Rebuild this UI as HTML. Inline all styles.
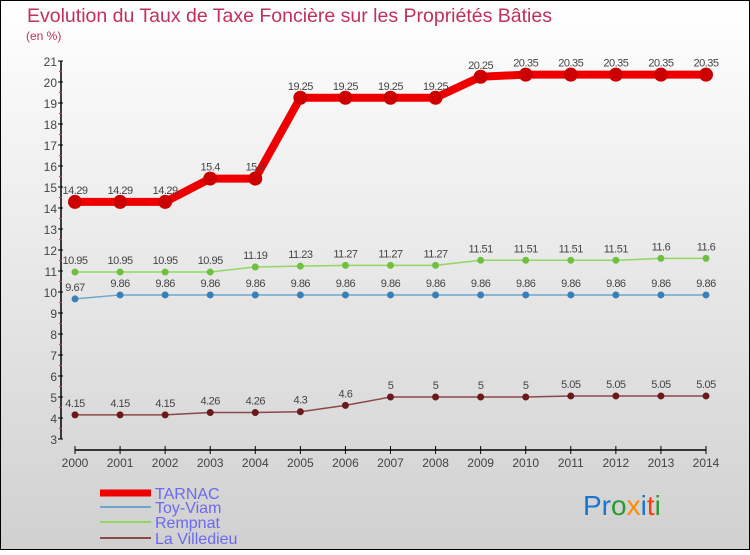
<!DOCTYPE html>
<html><head><meta charset="utf-8"><style>
html,body{margin:0;padding:0}
body{width:750px;height:550px;overflow:hidden;font-family:"Liberation Sans",sans-serif}
</style></head><body>
<svg id="chart" width="750" height="550" xmlns="http://www.w3.org/2000/svg">
<defs><linearGradient id="bg" x1="0" y1="0" x2="0" y2="1"><stop offset="0" stop-color="#ffffff"/><stop offset="1" stop-color="#d0d0d0"/></linearGradient></defs>
<rect x="0.5" y="0.5" width="749" height="549" fill="url(#bg)" stroke="#000" stroke-width="1"/>
<text x="27" y="22" font-size="19.5" fill="#c0305a">Evolution du Taux de Taxe Foncière sur les Propriétés Bâties</text>
<text x="26" y="40" font-size="12" fill="#c0305a">(en %)</text>
<g id="axes"></g><g id="series"></g>
<g id="legend"></g>
<text x="583" y="515" font-size="28" font-family="Liberation Sans,sans-serif"><tspan fill="#1a74d0">Pr</tspan><tspan fill="#2a9a30">o</tspan><tspan fill="#ff8a00">x</tspan><tspan fill="#1a74d0">i</tspan><tspan fill="#ff3a10">t</tspan><tspan fill="#2a9a30">i</tspan></text>
</svg>
<script>
const years=[2000,2001,2002,2003,2004,2005,2006,2007,2008,2009,2010,2011,2012,2013,2014];
const tarnac=[14.29,14.29,14.29,15.4,15.4,19.25,19.25,19.25,19.25,20.25,20.35,20.35,20.35,20.35,20.35];
const toyViam=[9.67,9.86,9.86,9.86,9.86,9.86,9.86,9.86,9.86,9.86,9.86,9.86,9.86,9.86,9.86];
const rempnat=[10.95,10.95,10.95,10.95,11.19,11.23,11.27,11.27,11.27,11.51,11.51,11.51,11.51,11.6,11.6];
const villedieu=[4.15,4.15,4.15,4.26,4.26,4.3,4.6,5,5,5,5,5.05,5.05,5.05,5.05];
const yTicks=[3,4,5,6,7,8,9,10,11,12,13,14,15,16,17,18,19,20,21];
const seriesNames=["TARNAC","Toy-Viam","Rempnat","La Villedieu"];
const NS="http://www.w3.org/2000/svg";
const X=i=>75+i*(706-75)/(years.length-1);
const Y=v=>439-(v-3)*21;
function mk(p,t,a){const e=document.createElementNS(NS,t);for(const k in a)e.setAttribute(k,a[k]);p.appendChild(e);return e;}
const ax=document.getElementById('axes');
let l=mk(ax,'line',{x1:61,y1:Y(21),x2:61,y2:Y(3),stroke:'#000','stroke-width':1.5});


yTicks.forEach(t=>{
  mk(ax,'line',{x1:58,y1:Y(t),x2:63,y2:Y(t),stroke:'#000'});
  if(t<21)mk(ax,'line',{x1:59,y1:Y(t+0.5),x2:62,y2:Y(t+0.5),stroke:'#e03030'});
  const tx=mk(ax,'text',{x:57,y:Y(t)+5,'text-anchor':'end','font-size':12,fill:'#444'});
  tx.textContent=t;
  
  
});
l=mk(ax,'line',{x1:X(0),y1:450,x2:X(years.length-1),y2:450,stroke:'#000','stroke-width':1.5});


years.forEach((y,i)=>{
  mk(ax,'line',{x1:X(i),y1:446,x2:X(i),y2:454,stroke:'#000'});
  const tx=mk(ax,'text',{x:X(i),y:467,'text-anchor':'middle','font-size':12,fill:'#444'});
  tx.textContent=y;
  
  
});
const defs=[[tarnac,'#ee0000','#cc0000',8,7,'tarnac'],[toyViam,'#6fa6cc','#3a80b8',1.5,3.5,'toy-viam'],[rempnat,'#90d860','#70c040',1.5,3.5,'rempnat'],[villedieu,'#8a4a4a','#6a1a1a',1.5,3.5,'la-villedieu']];
const sg=document.getElementById('series');
defs.forEach(([d,c,pc,w,r,n])=>{
  const g=mk(sg,'g',{});
  
  
  const pl=mk(g,'polyline',{points:d.map((v,i)=>X(i)+','+Y(v)).join(' '),fill:'none',stroke:c,'stroke-width':w,'stroke-linejoin':'round'});
  
  
  d.forEach((v,i)=>{
    const p=mk(g,'circle',{cx:X(i),cy:Y(v),r:r,fill:pc});
    
    
    const t=mk(g,'text',{x:X(i),y:Y(v)-8,'text-anchor':'middle','font-size':11,fill:'#444','letter-spacing':'-0.5'});
    t.textContent=v;
    
    
  });
});
const lg=document.getElementById('legend');
const lys=[493,507,522,538];
defs.forEach((d,i)=>{
  const g=mk(lg,'g',{});
  
  
  mk(g,'line',{x1:100,y1:lys[i],x2:151,y2:lys[i],stroke:d[1],'stroke-width':i==0?7:2});
  const t=mk(g,'text',{x:155,y:lys[i]+6,'font-size':16,fill:'#6a6af0'});
  t.textContent=seriesNames[i];
});
</script>
</body></html>
